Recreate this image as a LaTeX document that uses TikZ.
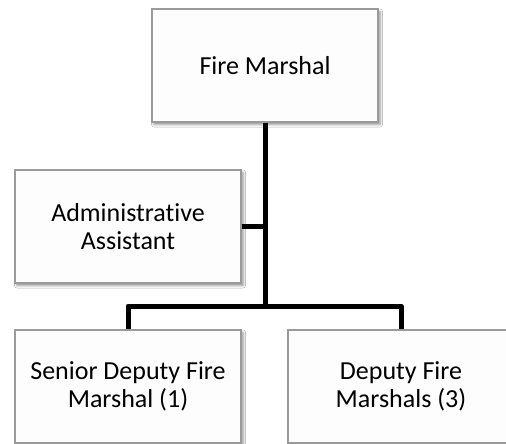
\documentclass[tikz,border=0pt]{standalone}
\usepackage{fontspec}
\setmainfont[Ligatures=NoCommon]{Carlito}
\usetikzlibrary{shadows.blur}
\definecolor{boxline}{HTML}{9A9A9A}
\definecolor{boxfill}{HTML}{FDFDFD}
\begin{document}
\begin{tikzpicture}[x=1pt,y=-1pt,
  rolebox/.style={draw=boxline, line width=1.6pt, fill=boxfill,
    minimum width=226pt, minimum height=113pt, inner sep=0pt,
    align=center, font=\fontsize{26}{28}\selectfont,
    blur shadow={shadow xshift=2pt, shadow yshift=-2.5pt,
      shadow blur radius=2.5pt, shadow opacity=45}},
  link/.style={line width=5pt, line join=round, draw=black}]
  \useasboundingbox (0,0) rectangle (506,444);
  \fill[white] (0,0) rectangle (506,444);
  \clip (0,0) rectangle (506,444);

  % positions
  \node[rolebox] (fm) at (265,65.5) {Fire Marshal};
  \node[rolebox] (aa) at (128,226.5) {Administrative\\Assistant};
  \node[rolebox] (sd) at (128,386.5) {Senior Deputy Fire\\Marshal (1)};
  \node[rolebox] (df) at (401,386.5) {Deputy Fire\\Marshals (3)};
  \coordinate (hub) at (265,306);

  % reporting lines
  \draw[link] (fm.south) -- (hub);
  \draw[link] (aa.east) -- (aa.east -| hub);
  \draw[link] (sd.north) |- (hub) -| (df.north);
\end{tikzpicture}
\end{document}
